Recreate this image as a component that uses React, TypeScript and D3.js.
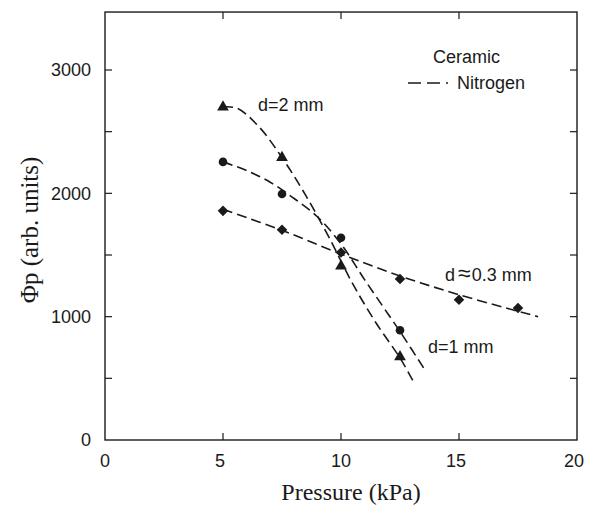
import React from "react";
import * as d3 from "d3";

const W = 594, H = 517;

// measured data points
const pressure2 = [5, 7.5, 10, 12.5];
const phi2 = [2700, 2290, 1410, 675];
const pressure1 = [5, 7.5, 10, 12.5];
const phi1 = [2255, 1995, 1640, 890];
const pressure03 = [5, 7.5, 10, 12.5, 15, 17.5];
const phi03 = [1858, 1705, 1520, 1306, 1137, 1070];

// fitted (dashed) curves
const fitX2 = [5, 5.6, 6.5, 7.5, 8.5, 9.5, 10.5, 11.5, 12.5, 13.05];
const fitY2 = [2700, 2690, 2545, 2290, 1985, 1640, 1265, 945, 665, 480];
const fitX1 = [5, 6, 7, 8, 9, 10, 11, 12, 12.5, 13.5];
const fitY1 = [2255, 2185, 2090, 1960, 1810, 1590, 1300, 1020, 880, 585];
const fitX03 = [5, 7.5, 10, 12.5, 15, 18.35];
const fitY03 = [1870, 1700, 1508, 1330, 1178, 1000];

const xTicks = [0, 5, 10, 15, 20];
const yTicks = [0, 1000, 2000, 3000];
const yMinorTicks = [500, 1000, 1500, 2000, 2500, 3000];

const x = d3.scaleLinear().domain([0, 20]).range([105, 577]);
const y = d3.scaleLinear().domain([0, 3000]).range([440, 70]);
const yTop = 3470;

const sans = "'Liberation Sans', Arial, sans-serif";
const serif = "'Liberation Serif', 'Times New Roman', serif";
const ink = "#1a1a1a";

const line = d3
  .line<[number, number]>()
  .x((d) => x(d[0]))
  .y((d) => y(d[1]))
  .curve(d3.curveCatmullRom.alpha(0.5));

const zip = (a: number[], b: number[]) => a.map((v, i) => [v, b[i]] as [number, number]);

const tri = d3.symbol().type(d3.symbolTriangle).size(60)();
const sq = d3.symbol().type(d3.symbolSquare).size(56)();

export default function App() {
  const x0 = x(0), x1 = x(20), y0 = y(0), y1 = y(yTop);
  const tl = 7;
  return (
    <svg width={W} height={H} style={{ position: "absolute", left: 0, top: 0, background: "#fff" }}>
      {/* frame */}
      <rect x={x0} y={y1} width={x1 - x0} height={y0 - y1} fill="none" stroke={ink} strokeWidth={1.4} />
      {/* y ticks left & right */}
      {yMinorTicks.map((t) => (
        <g key={"yt" + t}>
          <line x1={x0} x2={x0 + tl} y1={y(t)} y2={y(t)} stroke={ink} strokeWidth={1.2} />
          <line x1={x1} x2={x1 - tl} y1={y(t)} y2={y(t)} stroke={ink} strokeWidth={1.2} />
        </g>
      ))}
      {yTicks.map((t) => (
        <text key={"yl" + t} x={x0 - 14} y={y(t)} dy="0.35em" textAnchor="end" fontFamily={sans} fontSize={18} fill={ink}>
          {t}
        </text>
      ))}
      {/* x ticks bottom & top */}
      {xTicks.slice(1, -1).map((t) => (
        <g key={"xt" + t}>
          <line x1={x(t)} x2={x(t)} y1={y0} y2={y0 - tl} stroke={ink} strokeWidth={1.2} />
          <line x1={x(t)} x2={x(t)} y1={y1} y2={y1 + tl} stroke={ink} strokeWidth={1.2} />
        </g>
      ))}
      {xTicks.map((t) => (
        <text key={"xl" + t} x={x(t) - (t === 0 || t === 10 ? 0 : 3)} y={467} textAnchor="middle" fontFamily={sans} fontSize={18} fill={ink}>
          {t}
        </text>
      ))}
      {/* axis titles */}
      <text x={351} y={500} textAnchor="middle" fontFamily={serif} fontSize={24} fill={ink}>
        Pressure (kPa)
      </text>
      <text transform={`translate(38,230) rotate(-90)`} textAnchor="middle" fontFamily={serif} fontSize={25} fill={ink}>
        Φp (arb. units)
      </text>

      {/* fitted dashed curves */}
      {[zip(fitX2, fitY2), zip(fitX1, fitY1), zip(fitX03, fitY03)].map((pts, i) => (
        <path key={"f" + i} d={line(pts) || ""} fill="none" stroke={ink} strokeWidth={1.6} strokeDasharray="10,5" />
      ))}

      {/* markers */}
      {pressure2.map((p, i) => (
        <path key={"m2" + i} d={tri || ""} transform={`translate(${x(p)},${y(phi2[i])})`} fill={ink} />
      ))}
      {pressure1.map((p, i) => (
        <circle key={"m1" + i} cx={x(p)} cy={y(phi1[i])} r={4.3} fill={ink} />
      ))}
      {pressure03.map((p, i) => (
        <path key={"m3" + i} d={sq || ""} transform={`translate(${x(p)},${y(phi03[i])}) rotate(45)`} fill={ink} />
      ))}

      {/* labels */}
      <text x={258} y={111} fontFamily={sans} fontSize={18} fill={ink}>d=2 mm</text>
      <text x={428} y={353} fontFamily={sans} fontSize={18} fill={ink}>d=1 mm</text>
      <text x={445} y={281} fontFamily={sans} fontSize={18} fill={ink}>
        d<tspan dx={3} fontSize={23}>≈</tspan><tspan dx={1}>0.3 mm</tspan>
      </text>

      {/* legend */}
      <text x={433} y={63} fontFamily={sans} fontSize={18} fill={ink}>Ceramic</text>
      <line x1={408} x2={448} y1={83} y2={83} stroke={ink} strokeWidth={1.6} strokeDasharray="13,6" />
      <text x={457} y={89} fontFamily={sans} fontSize={18} fill={ink}>Nitrogen</text>
    </svg>
  );
}
